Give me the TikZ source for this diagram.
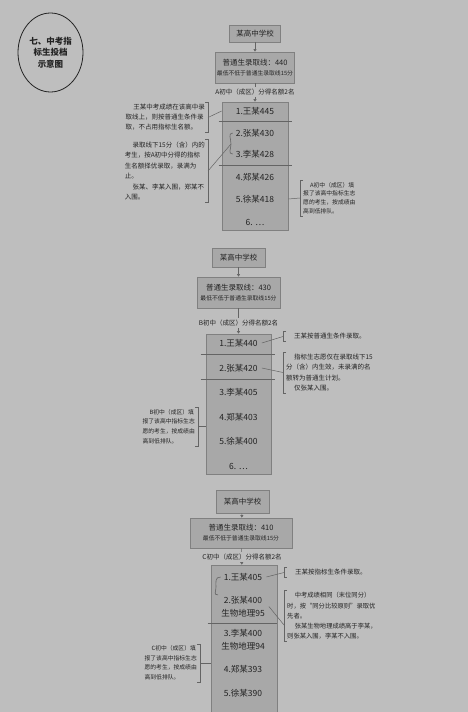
\documentclass[tikz,border=0pt]{standalone}
\usepackage{fontspec}
\setmainfont{Noto Sans CJK SC}
\usetikzlibrary{shapes.geometric,arrows.meta}
\definecolor{bgc}{RGB}{190,190,190}
\definecolor{boxc}{RGB}{168,168,168}
\definecolor{edgec}{RGB}{128,128,128}
\definecolor{inkc}{RGB}{35,35,35}
\definecolor{wirec}{RGB}{100,100,100}
\newcommand{\drawschool}{\node[draw=edgec,fill=boxc,line width=0.8pt,inner sep=0pt,text=inkc,font=\fontsize{7.5}{9}\selectfont]}
\newcommand{\drawcut}{\node[draw=edgec,fill=boxc,line width=0.8pt,inner sep=0pt,text=inkc,align=center,font=\fontsize{7.5}{10}\selectfont]}
\newcommand{\drawlist}{\node[draw=edgec,fill=boxc,line width=0.7pt,inner sep=0pt]}
\newcommand{\drawitem}{\node[inner sep=1pt,text=inkc,align=center,font=\fontsize{8.5}{13}\selectfont]}
\newcommand{\drawnote}{\node[inner xsep=3pt,inner ysep=2pt,text=inkc,align=left]}
\newcommand{\drawquota}{\node[fill=bgc,inner xsep=1pt,inner ysep=1.5pt,text=inkc,font=\fontsize{6.5}{8}\selectfont]}
\newcommand{\drawdummy}{\coordinate}
\newcommand{\subline}[1]{{\fontsize{5.8}{7}\selectfont #1}}
\newcommand{\ind}{\hspace*{1.2em}}

\begin{document}
\begin{tikzpicture}[x=1pt,y=-1pt,
  arr/.style={draw=wirec,line width=0.5pt,-{Triangle[width=3pt,length=2.5pt]}},
  wire/.style={draw=wirec,line width=0.5pt},
  brk/.style={draw=wirec,line width=0.6pt},
  sep/.style={draw=wirec,line width=0.6pt},
  brc/.style={draw=wirec,line width=0.6pt}]
\useasboundingbox (0,0) rectangle (468,712);
\clip (0,0) rectangle (468,712);
\fill[bgc] (0,0) rectangle (468,712);

%title
\node[draw=inkc,ellipse,line width=0.8pt,minimum width=65pt,minimum height=79pt,inner sep=0pt,align=center,text=inkc,font=\bfseries\fontsize{8.5}{11.5}\selectfont] (title) at (50.5,52.5) {七、中考指\\标生投档\\示意图};

%school A, quota 2
\drawschool (schA) [minimum width=51pt,minimum height=17pt] at (255,33.5) {某高中学校};
\drawcut (cutA) [minimum width=79pt,minimum height=31pt] at (255,67.5) {普通生录取线：440\\\subline{最低不低于普通生录取线15分}};
\drawlist (listA) [minimum width=66pt,minimum height=128pt] at (255,166) {};
\drawitem (i1a) at (255,111) {1.王某445};
\drawitem (i2a) at (255,133) {2.张某430};
\drawitem (i3a) at (255,154) {3.李某428};
\drawitem (i4a) at (255,177) {4.郑某426};
\drawitem (i5a) at (255,199) {5.徐某418};
\drawitem (i6a) at (255,222) {6. …};
\drawdummy (s1a) at (255,121);
\drawdummy (s2a) at (255,165);
\drawdummy (bA) at (231,144);

\drawnote (nA1) [anchor=east,font=\fontsize{6.5}{10}\selectfont] at (208,117.5) {\ind 王某中考成绩在该高中录\\取线上，则按普通生条件录\\取，不占用指标生名额。};
\drawnote (nA2) [anchor=east,font=\fontsize{6.5}{10.5}\selectfont] at (208,171) {\ind 录取线下15分（含）内的\\考生，按A初中分得的指标\\生名额择优录取，录满为\\止。\\\ind 张某、李某入围，郑某不\\入围。};
\drawnote (nA3) [anchor=west,font=\fontsize{5.8}{8.7}\selectfont] at (300,198) {\ind A初中（成区）填\\报了该高中指标生志\\愿的考生，按成绩由\\高到低排队。};

\draw[arr] (schA) -- (cutA);
\draw[arr] (cutA) -- (listA);
\drawquota (quoA) at (255,92) {A初中（成区）分得名额2名};
\draw[sep] ([xshift=-3pt]listA.west |- s1a) -- ([xshift=4pt]listA.east |- s1a);
\draw[sep] ([xshift=-3pt]listA.west |- s2a) -- ([xshift=4pt]listA.east |- s2a);
\draw[brk] ([xshift=-3pt]nA1.north east) -- (nA1.north east) -- (nA1.south east) -- ([xshift=-3pt]nA1.south east);
\draw[brk] ([xshift=-3pt]nA2.north east) -- (nA2.north east) -- (nA2.south east) -- ([xshift=-3pt]nA2.south east);
\draw[brk] ([xshift=3pt]nA3.north west) -- (nA3.north west) -- (nA3.south west) -- ([xshift=3pt]nA3.south west);
\draw[brc] ([xshift=-2pt]i2a.west) .. controls +(-5,0) and +(0,-5) .. (bA) .. controls +(0,5) and +(-5,0) .. ([xshift=-2pt]i3a.west);
\draw[wire] (nA1.east) -- (listA.west |- i1a);
\draw[wire] (nA2.east) -- (bA);
\draw[wire] (listA.east |- i5a) -- (nA3.west);

%school B, quota 2
\drawschool (schB) [minimum width=53pt,minimum height=19pt] at (238.5,257.5) {某高中学校};
\drawcut (cutB) [minimum width=83pt,minimum height=31pt] at (238.5,292.5) {普通生录取线：430\\\subline{最低不低于普通生录取线15分}};
\drawlist (listB) [minimum width=65pt,minimum height=140pt] at (238.5,404) {};
\drawitem (i1b) at (238.5,343) {1.王某440};
\drawitem (i2b) at (238.5,368) {2.张某420};
\drawitem (i3b) at (238.5,392) {3.李某405};
\drawitem (i4b) at (238.5,417) {4.郑某403};
\drawitem (i5b) at (238.5,441) {5.徐某400};
\drawitem (i6b) at (238.5,466) {6. …};
\drawdummy (s1b) at (238.5,354);
\drawdummy (s2b) at (238.5,379);

\drawnote (nB1) [anchor=west,font=\fontsize{6.5}{10}\selectfont] at (283,336.5) {\ind 王某按普通生条件录取。};
\drawnote (nB2) [anchor=west,font=\fontsize{6.5}{10.3}\selectfont] at (283,372.5) {\ind 指标生志愿仅在录取线下15\\分（含）内生效，未录满的名\\额转为普通生计划。\\\ind 仅张某入围。};
\drawnote (nB3) [anchor=east,font=\fontsize{5.8}{9.7}\selectfont] at (198,426.5) {\ind B初中（成区）填\\报了该高中指标生志\\愿的考生，按成绩由\\高到低排队。};

\draw[arr] (schB) -- (cutB);
\draw[arr] (cutB) -- (listB);
\drawquota (quoB) at (238.5,323) {B初中（成区）分得名额2名};
\draw[sep] ([xshift=-5pt]listB.west |- s1b) -- ([xshift=4pt]listB.east |- s1b);
\draw[sep] ([xshift=-5pt]listB.west |- s2b) -- ([xshift=4pt]listB.east |- s2b);
\draw[brk] ([xshift=3pt]nB1.north west) -- (nB1.north west) -- (nB1.south west) -- ([xshift=3pt]nB1.south west);
\draw[brk] ([xshift=3pt]nB2.north west) -- (nB2.north west) -- (nB2.south west) -- ([xshift=3pt]nB2.south west);
\draw[brk] ([xshift=-3pt]nB3.north east) -- (nB3.north east) -- (nB3.south east) -- ([xshift=-3pt]nB3.south east);
\draw[wire] ([xshift=3pt]i1b.east) -- (nB1.west);
\draw[wire] ([xshift=3pt]i2b.east) -- (nB2.west);
\draw[wire] (nB3.east) -- (listB.west |- nB3.east);

%school C, quota 2
\drawschool (schC) [minimum width=53pt,minimum height=23pt] at (242.5,501.5) {某高中学校};
\drawcut (cutC) [minimum width=102pt,minimum height=30pt] at (241,533) {普通生录取线：410\\\subline{最低不低于普通生录取线15分}};
\drawlist (listC) [minimum width=66pt,minimum height=170pt] at (244,650) {};
\drawitem (i1c) at (243,577) {1.王某405};
\drawitem (i2c) at (243,606.5) {2.张某400\\生物地理95};
\drawitem (i3c) at (243,639.5) {3.李某400\\生物地理94};
\drawitem (i4c) at (243,669) {4.郑某393};
\drawitem (i5c) at (243,693) {5.徐某390};
\drawdummy (s1c) at (243,623);
\drawdummy (bC) at (216,587);

\drawnote (nC1) [anchor=west,font=\fontsize{6.5}{10}\selectfont] at (284,572.5) {\ind 王某按指标生条件录取。};
\drawnote (nC2) [anchor=west,font=\fontsize{6.3}{10.2}\selectfont] at (284,616) {\ind 中考成绩相同（末位同分）\\时，按“同分比较原则”录取优\\先者。\\\ind 张某生物地理成绩高于李某，\\则张某入围，李某不入围。};
\drawnote (nC3) [anchor=east,font=\fontsize{5.8}{9.5}\selectfont] at (200,663) {\ind C初中（成区）填\\报了该高中指标生志\\愿的考生，按成绩由\\高到低排队。};

\draw[arr] (schC) -- (cutC);
\draw[arr] (cutC) -- (listC);
\drawquota (quoC) at (242,557) {C初中（成区）分得名额2名};
\draw[sep] ([xshift=-3pt]listC.west |- s1c) -- (listC.east |- s1c);
\draw[brk] ([xshift=3pt]nC1.north west) -- (nC1.north west) -- (nC1.south west) -- ([xshift=3pt]nC1.south west);
\draw[brk] ([xshift=3pt]nC2.north west) -- (nC2.north west) -- (nC2.south west) -- ([xshift=3pt]nC2.south west);
\draw[brk] ([xshift=-3pt]nC3.north east) -- (nC3.north east) -- (nC3.south east) -- ([xshift=-3pt]nC3.south east);
\draw[brc] ([xshift=-2pt]i1c.west) .. controls +(-6,0) and +(0,-5) .. (bC) .. controls +(0,5) and +(-5,0) .. ([xshift=-2pt]i2c.north west);
\draw[wire] ([xshift=3pt]i1c.east) -- (nC1.west);
\draw[wire] ([xshift=3pt]i2c.east) -- ([yshift=-9pt]nC2.west);
\draw[wire] (nC3.east) -- (listC.west |- nC3.east);
\end{tikzpicture}
\end{document}
